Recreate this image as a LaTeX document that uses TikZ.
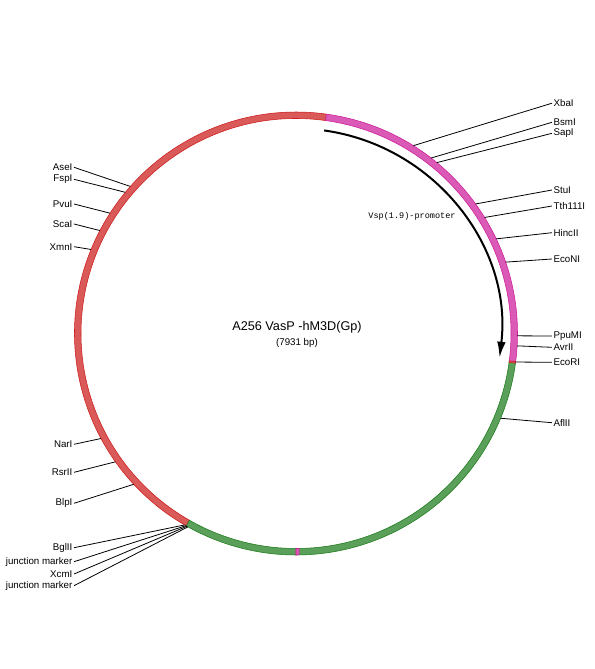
\documentclass[tikz,border=0pt]{standalone}
\usepackage{fontspec}
\setmainfont{Liberation Sans}
\setmonofont{Liberation Mono}
\usetikzlibrary{arrows.meta}
\definecolor{ringred}{HTML}{CC1A1A}
\definecolor{ringpink}{HTML}{CC1A99}
\definecolor{ringgreen}{HTML}{1A7A1A}
\tikzset{
  seg/.style={draw=#1, fill=#1!72!white, line width=0.4pt},
  site/.style={font=\fontsize{7.3}{8}\selectfont, inner sep=1pt},
  cut/.style={line width=0.6pt},
}

\begin{document}
\begin{tikzpicture}[x=0.75pt,y=0.75pt]
  \useasboundingbox (-296,-335.5) rectangle (298,333.5);
  % backbone ring
  \filldraw[seg=ringred] (82.1:215) arc[start angle=82.1, end angle=240.3, radius=215]
    -- (240.3:221.5) arc[start angle=240.3, end angle=82.1, radius=221.5] -- cycle;
  \filldraw[seg=ringgreen] (240.3:215) arc[start angle=240.3, end angle=352.6, radius=215]
    -- (352.6:221.5) arc[start angle=352.6, end angle=240.3, radius=221.5] -- cycle;
  \filldraw[seg=ringpink] (-7.4:215) arc[start angle=-7.4, end angle=82.1, radius=215]
    -- (82.1:221.5) arc[start angle=82.1, end angle=-7.4, radius=221.5] -- cycle;
  \filldraw[seg=ringpink] (-90:215) arc[start angle=-90, end angle=-89.2, radius=215]
    -- (-89.2:221.5) arc[start angle=-89.2, end angle=-90, radius=221.5] -- cycle;
  \filldraw[seg=ringred] (-7.7:215) arc[start angle=-7.7, end angle=-7.3, radius=215]
    -- (-7.3:221.5) arc[start angle=-7.3, end angle=-7.7, radius=221.5] -- cycle;

  % promoter arrow
  \coordinate (promStart) at (82.1:205);
  \draw[line width=1.5pt, -{Latex[length=12pt,width=6.5pt]}] (promStart)
    arc[start angle=82.1, end angle=-6.8, radius=205];
  \node[font=\ttfamily\fontsize{6.4}{7}\selectfont, inner sep=0pt] (prom) at (116,117.5) {Vsp(1.9)-promoter};

  % title
  \node[font=\fontsize{9.5}{11}\selectfont, inner sep=0pt] (title) at (1,5.8) {A256 VasP -hM3D(Gp)};
  \node[font=\fontsize{7.3}{8}\selectfont, inner sep=0pt] (size) at (1,-9.2) {(7931 bp)};

  % sites, right side
  \foreach \nm/\ang/\yy/\txt in {xba/58.0/230.3/XbaI, bsm/52.4/211.2/BsmI, sap/50.5/200.2/SapI,
      stu/35.8/143.5/StuI, tth/31.6/127.5/Tth111I, hinc/25.3/100.8/HincII, econ/18.8/74.5/EcoNI,
      ppum/-0.6/-2.5/PpuMI, avr/-3.2/-13.8/AvrII, ecor/-7.4/-28.8/EcoRI, afl/-22.5/-89.2/AflII} {
    \coordinate (s\nm) at (\ang:221.5);
    \node[site, anchor=west] (l\nm) at (256,\yy) {\txt};
    \draw[cut] (s\nm) -- (l\nm.west);
  }
  % sites, left side
  \foreach \nm/\ang/\yy/\txt in {ase/138.4/166.2/AseI, fsp/140.4/154.2/FspI, pvu/147.1/129.5/PvuI,
      sca/152.3/109.5/ScaI, xmn/157.7/86.8/XmnI, nar/208.3/-110.8/NarI, rsr/215.4/-138.8/RsrII,
      blp/222.9/-169.8/BlpI, bgl/239.8/-214.2/BglII, jma/240.2/-228.2/junction marker,
      xcm/240.5/-240.5/XcmI, jmb/240.8/-252.2/junction marker} {
    \coordinate (s\nm) at (\ang:221.5);
    \node[site, anchor=east] (l\nm) at (-222,\yy) {\txt};
    \draw[cut] (s\nm) -- (l\nm.east);
  }
\end{tikzpicture}
\end{document}
